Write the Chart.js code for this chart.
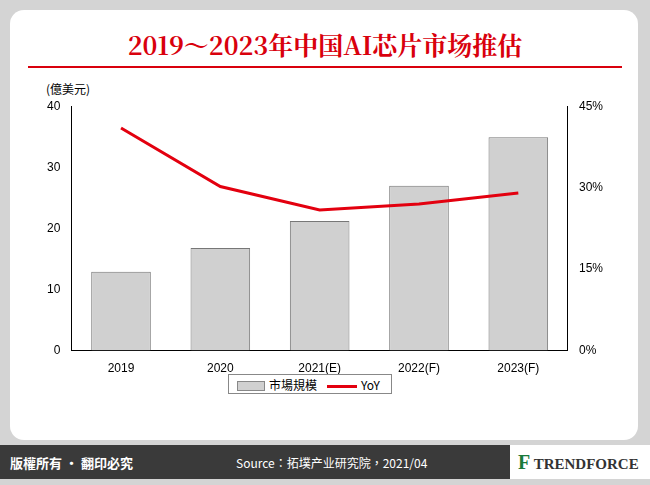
<!DOCTYPE html>
<html><head><meta charset="utf-8">
<script src="https://cdn.jsdelivr.net/npm/chart.js@4"></script>
<style>
body{margin:0;width:650px;height:485px;background:#d4d4d4;font-family:"Noto Sans CJK TC","Noto Sans",sans-serif;position:relative;overflow:hidden}
#panel{position:absolute;left:10px;top:10px;width:628px;height:430px;background:#fff;border-radius:14px}
#title{position:absolute;left:0;top:26px;width:650px;text-align:center;color:#d9000d;font:bold 25px "Noto Serif CJK SC","Liberation Serif","Noto Sans CJK SC",serif}
#rule{position:absolute;left:28px;top:66px;width:594px;height:2px;background:#d9000d}
#unit{position:absolute;left:46px;top:80px;font-size:12px;color:#000}
#wrap{position:absolute;left:22px;top:96px;width:608px;height:283px}
#legend{position:absolute;left:228px;top:374px;width:164px;height:20px;border:1px solid #888;font-size:12px;display:flex;align-items:center;gap:10px;padding-left:8px;box-sizing:border-box;background:#fff}
.sw{display:inline-block;width:26px;height:8px;background:#d0d0d0;border:1px solid #888;vertical-align:middle;margin-right:4px}
.ln{display:inline-block;width:30px;height:3px;background:#e3000f;vertical-align:middle;margin-right:4px}
#foot{position:absolute;left:0;top:445px;width:650px;height:34px;background:#3a3a3a}
#copy{position:absolute;left:10px;top:8px;color:#fff;font-size:13px;font-weight:bold}
#src{position:absolute;left:236px;top:9px;color:#fff;font-size:12px}
#logo{position:absolute;right:0;top:0;width:140px;height:34px;background:#fff;color:#333;font:bold 15px "Liberation Serif",serif;line-height:34px;white-space:nowrap;padding-left:8px;box-sizing:border-box}
#logo b{color:#1a7a3a;font-size:20px}
</style></head><body>
<div id="panel"></div>
<div id="title">2019～2023年中国AI芯片市场推估</div>
<div id="rule"></div>
<div id="unit">(億美元)</div>
<div id="wrap"><canvas id="c"></canvas></div>
<div id="legend"><span><span class="sw"></span>市場規模</span><span><span class="ln"></span>YoY</span></div>
<div id="foot"><div id="copy">版權所有 · 翻印必究</div><div id="src">Source：拓墣产业研究院，2021/04</div><div id="logo"><b>F</b> TRENDFORCE</div></div>
<script>
const years = ["2019", "2020", "2021(E)", "2022(F)", "2023(F)"];
const marketSize = [12.9, 16.8, 21.2, 27.0, 34.9];
const yoy = [41, 30.2, 25.9, 27.0, 29.0];

new Chart(document.getElementById("c"), {
  data: {
    labels: years,
    datasets: [
      { type: "line", label: "YoY", data: yoy, yAxisID: "y1", borderColor: "#e3000f", borderWidth: 3, pointRadius: 0, tension: 0, order: 0 },
      { type: "bar", label: "市場規模", data: marketSize, yAxisID: "y", backgroundColor: "#d0d0d0", borderColor: "#777", borderWidth: 1, categoryPercentage: 0.6, barPercentage: 1, order: 1 },
    ],
  },
  options: {
    responsive: true, maintainAspectRatio: false, animation: false,
    layout: { padding: { left: 22, right: 24, top: 8 } },
    plugins: { legend: { display: false }, tooltip: { enabled: false } },
    scales: {
      x: { grid: { display: false }, border: { color: "#000" }, ticks: { color: "#000", font: { size: 12 } } },
      y: { min: 0, max: 40, ticks: { stepSize: 10, color: "#000", font: { size: 12 } }, grid: { display: false }, border: { color: "#000" } },
      y1: { position: "right", min: 0, max: 45, ticks: { stepSize: 15, color: "#000", font: { size: 12 }, callback: (v) => v + "%" }, grid: { display: false }, border: { color: "#000" } },
    },
  },
});
</script>
</body></html>
